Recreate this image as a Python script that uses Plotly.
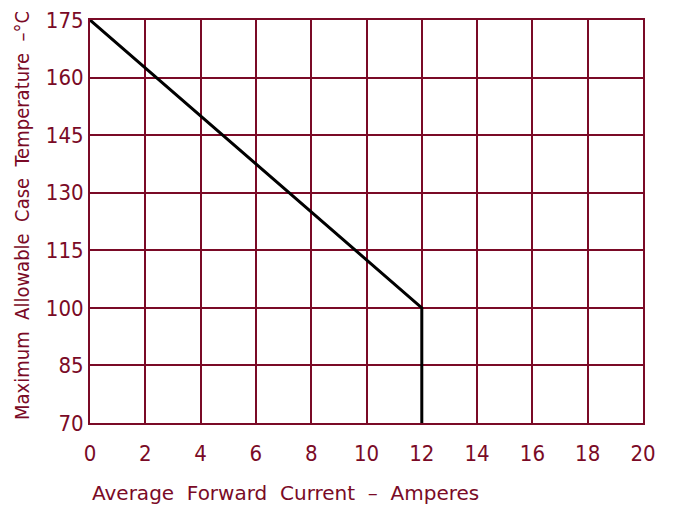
import plotly.graph_objects as go

current = [0, 12, 12]
temperature = [175, 100, 70]
x_ticks = [0, 2, 4, 6, 8, 10, 12, 14, 16, 18, 20]
y_ticks = [70, 85, 100, 115, 130, 145, 160, 175]
x_title = "Average\u00a0\u00a0Forward\u00a0\u00a0Current\u00a0\u00a0–\u00a0\u00a0Amperes"
y_title = "Maximum\u00a0\u00a0Allowable\u00a0\u00a0Case\u00a0\u00a0Temperature\u00a0\u00a0–°C"

maroon = "#7a0a26"
tick_font = "DejaVu Sans Condensed, sans-serif"

# page body has an 8px margin, so the figure is offset by 8px
OFF = 8
W, H = 677 - OFF, 508 - OFF
L, T = 90 - OFF, 20 - OFF
pw, ph = 553, 403
R, B = W - L - pw, H - T - ph

fig = go.Figure()
fig.add_trace(go.Scatter(x=current, y=temperature, mode="lines",
                         line=dict(color="black", width=3), showlegend=False))

axis_common = dict(showgrid=True, gridcolor=maroon, gridwidth=2,
                   showline=True, linecolor=maroon, linewidth=2, mirror=True,
                   zeroline=False, ticks="", automargin=False,
                   ticklabeloverflow="allow",
                   tickfont=dict(color=maroon, size=22, family=tick_font))

fig.update_xaxes(range=[0, 20], tickvals=x_ticks, ticklabelstandoff=10, **axis_common)
fig.update_yaxes(range=[70, 175], tickvals=y_ticks, **axis_common)

fig.add_annotation(text=x_title, xref="paper", yref="paper",
                   x=0, y=(423 - 493) / ph, xanchor="left", yanchor="middle",
                   showarrow=False, font=dict(color=maroon, size=20, family="DejaVu Sans, sans-serif"))
fig.add_annotation(text=y_title, xref="paper", yref="paper",
                   x=(22 - 90) / pw, y=(423 - 216) / ph, xanchor="center", yanchor="middle",
                   textangle=-90, showarrow=False,
                   font=dict(color=maroon, size=20, family="DejaVu Sans Condensed, sans-serif"))

fig.update_layout(width=W, height=H, margin=dict(l=L, r=R, t=T, b=B),
                  plot_bgcolor="white", paper_bgcolor="white")
fig.write_html("out.html")
